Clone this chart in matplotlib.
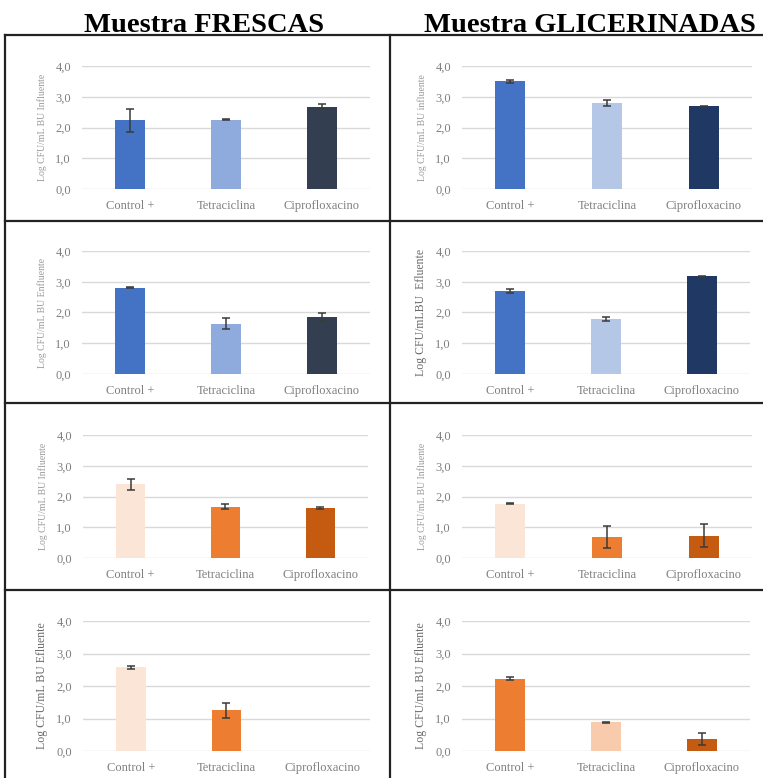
import numpy as np
import matplotlib
matplotlib.use("Agg")
import matplotlib.pyplot as plt
from matplotlib.lines import Line2D

plt.rcParams['font.family'] = ['Liberation Serif', 'DejaVu Serif']

W, H = 763, 778

categories = ["Control +", "Tetraciclina", "Ciprofloxacino"]

# mean and error per panel (Log CFU/mL)
fres_inf = [2.23, 2.25, 2.68]
fres_inf_err = [0.37, 0.02, 0.07]
glic_inf = [3.50, 2.81, 2.69]
glic_inf_err = [0.06, 0.10, 0.01]
fres_efl = [2.81, 1.63, 1.85]
fres_efl_err = [0.02, 0.18, 0.13]
glic_efl = [2.70, 1.79, 3.18]
glic_efl_err = [0.08, 0.06, 0.02]
fres_inf2 = [2.40, 1.67, 1.63]
fres_inf2_err = [0.18, 0.08, 0.04]
glic_inf2 = [1.77, 0.68, 0.72]
glic_inf2_err = [0.03, 0.37, 0.37]
fres_efl2 = [2.57, 1.25, 0.0]
fres_efl2_err = [0.05, 0.24, 0.0]
glic_efl2 = [2.23, 0.88, 0.38]
glic_efl2_err = [0.06, 0.01, 0.18]

yticks = [0, 1, 2, 3, 4]
ytick_labels = ["0,0", "1,0", "2,0", "3,0", "4,0"]

col_titles = ["Muestra FRESCAS", "Muestra GLICERINADAS"]

blue_a = ["#4472C4", "#8FAADC", "#333F50"]
blue_b = ["#4472C4", "#B4C7E7", "#1F3864"]
orange_a = ["#FBE5D6", "#ED7D31", "#C55A11"]
orange_b = ["#ED7D31", "#F8CBAD", "#C55A11"]

# (values, errors, colours, ylabel, ylabel size, ylabel colour, axes box in px: x0, y0, x1, y1)
panels = [
    (fres_inf, fres_inf_err, blue_a, "Log CFU/mL BU Influente", 7, "#9a9a9a", (82, 66, 370, 189)),
    (glic_inf, glic_inf_err, blue_b, "Log CFU/mL BU influente", 7, "#9a9a9a", (462, 66, 752, 189)),
    (fres_efl, fres_efl_err, blue_a, "Log CFU/mL BU Enfluente", 7, "#9a9a9a", (82, 251, 370, 374)),
    (glic_efl, glic_efl_err, blue_b, "Log CFU/mLBU  Efluente", 8.5, "#6a6a6a", (462, 251, 750, 374)),
    (fres_inf2, fres_inf2_err, orange_a, "Log CFU/mL BU Influente", 7, "#9a9a9a", (83, 435, 368, 558)),
    (glic_inf2, glic_inf2_err, orange_a, "Log CFU/mL BU Influente", 7, "#9a9a9a", (462, 435, 752, 558)),
    (fres_efl2, fres_efl2_err, orange_a, "Log CFU/mL BU Efluente", 8.5, "#6a6a6a", (83, 621, 370, 751)),
    (glic_efl2, glic_efl2_err, orange_b, "Log CFU/mL BU Efluente", 8.5, "#6a6a6a", (462, 621, 750, 751)),
]

fig = plt.figure(figsize=(W / 100, H / 100), dpi=100)
fig.patch.set_facecolor("white")

x = np.arange(len(categories))
for vals, errs, cols, ylab, ysz, ycol, (x0, y0, x1, y1) in panels:
    ax = fig.add_axes([x0 / W, 1 - y1 / H, (x1 - x0) / W, (y1 - y0) / H])
    ax.set_axisbelow(True)
    ax.yaxis.grid(True, color="#D9D9D9", linewidth=1)
    vals = np.array(vals)
    errs = np.array(errs)
    ax.bar(x, vals, width=0.31, color=cols, zorder=2)
    # no error bar for an empty (zero) bar
    has = vals > 0
    ax.errorbar(x[has], vals[has], yerr=errs[has], fmt="none", ecolor="#3a3a3a",
                elinewidth=1.1, capsize=3, capthick=1.1, zorder=3)
    ax.set_ylim(0, 4)
    ax.set_xlim(-0.5, 2.5)
    ax.set_yticks(yticks)
    ax.set_yticklabels(ytick_labels)
    ax.set_xticks(x)
    ax.set_xticklabels(categories)
    ax.tick_params(length=0, labelsize=9, colors="#7f7f7f", pad=8)
    for s in ax.spines.values():
        s.set_visible(False)
    ax.set_ylabel(ylab, fontsize=ysz, color=ycol, labelpad=6)

# column headers
fig.text(204 / W, 1 - 32 / H, col_titles[0], ha="center", va="baseline",
         fontsize=20.5, fontweight="bold")
fig.text(590 / W, 1 - 32 / H, col_titles[1], ha="center", va="baseline",
         fontsize=20.5, fontweight="bold")

# table frame around the panels
def hline(y, xa=5, xb=W):
    fig.add_artist(Line2D([xa / W, xb / W], [1 - y / H, 1 - y / H], color="#222222", lw=1.6))

def vline(xp, ya=35, yb=H):
    fig.add_artist(Line2D([xp / W, xp / W], [1 - ya / H, 1 - yb / H], color="#222222", lw=1.6))

for yy in [35, 221, 403, 590]:
    hline(yy)
vline(5)
vline(390)

fig.savefig("out.png", dpi=100)
